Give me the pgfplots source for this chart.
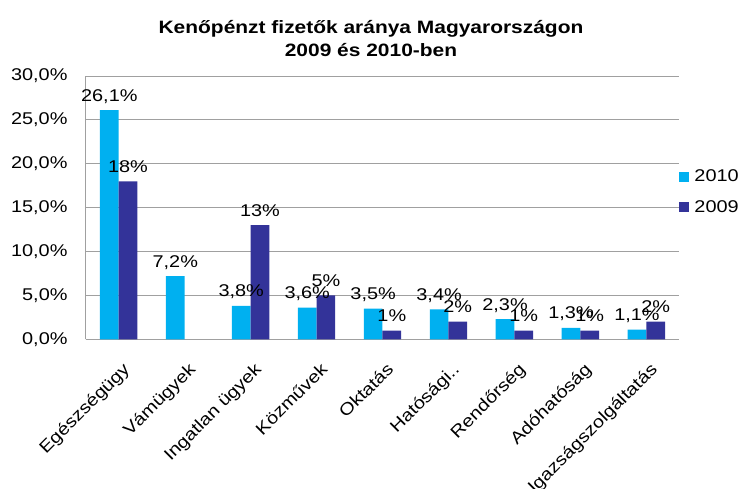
\documentclass[border=0pt]{standalone}
\usepackage{pgfplots}
\pgfplotsset{compat=1.18}
\usepackage{pgfplotstable}
\usepackage{fontspec}
\setmainfont{Liberation Sans}[FakeStretch=1.17]
\definecolor{c2010}{HTML}{00B0F0}
\definecolor{c2009}{HTML}{333399}
\definecolor{gridc}{HTML}{A0A0A0}
\newcommand\fs{\fontsize{17bp}{20bp}\selectfont}

\pgfplotstableread{
x y lab
0 26.1 26,1
1 7.2 7,2
2 3.8 3,8
3 3.6 3,6
4 3.5 3,5
5 3.4 3,4
6 2.3 2,3
7 1.3 1,3
8 1.1 1,1
}\dataA
\pgfplotstableread{
x y lab
0 18 18
2 13 13
3 5 5
4 1 1
5 2 2
6 1 1
7 1 1
8 2 2
}\dataB

\begin{document}
\begin{tikzpicture}
\useasboundingbox (-85.7bp,-149bp) rectangle (655.3bp,339.3bp);
\begin{axis}[
 scale only axis, width=593.6bp, height=263.3bp,
 ybar=0pt, bar width=18.7bp,
 xmin=-0.5, xmax=8.5, ymin=0, ymax=30,
 xtick={0,...,8},
 xticklabels={Egészségügy, Vámügyek, Ingatlan ügyek, Közművek, Oktatás, Hatósági.., Rendőrség, Adóhatóság, Igazságszolgáltatás},
 ytick={0,5,...,30},
 yticklabel={\pgfmathprintnumber[fixed,fixed zerofill,precision=1,use comma,assume math mode=true]{\tick}\%},
 axis lines=left, axis line style={draw=gridc, line width=0.8pt, -},
 ymajorgrids, grid style={draw=gridc, line width=0.8pt},
 major tick length=0pt,
 tick label style={font=\fs},
 yticklabel style={anchor=east, inner sep=0pt, xshift=-18bp},
 xticklabel style={anchor=north east, inner sep=0pt, xshift=3bp, yshift=-22bp, rotate=45},
 nodes near coords={\pgfplotspointmeta\%},
 point meta=explicit symbolic,
 every node near coord/.append style={font=\fs, anchor=base, inner sep=0pt, yshift=9bp, text=black},
 every axis plot post/.append style={legend image code/.code={\fill[##1] (0bp,-5bp) rectangle (10bp,5bp);}},
 legend style={at={(1.0,0.56)}, anchor=west, draw=none, fill=none, font=\fs, inner sep=0pt, row sep=13bp, nodes={inner sep=2bp},
   /tikz/every odd column/.append style={column sep=3bp}},
 legend cell align=left,
]
\addplot[fill=c2010, draw=none] table[x=x,y=y,meta=lab]{\dataA};
\addplot[fill=c2009, draw=none] table[x=x,y=y,meta=lab]{\dataB};
\legend{2010,2009}
\end{axis}
\node[font=\bfseries\fontsize{17.9bp}{20bp}\selectfont, anchor=base] at (285.3bp, 305.5bp) {Kenőpénzt fizetők aránya Magyarországon};
\node[font=\bfseries\fontsize{17.9bp}{20bp}\selectfont, anchor=base] at (285.3bp, 282.5bp) {2009 és 2010-ben};
\end{tikzpicture}
\end{document}
